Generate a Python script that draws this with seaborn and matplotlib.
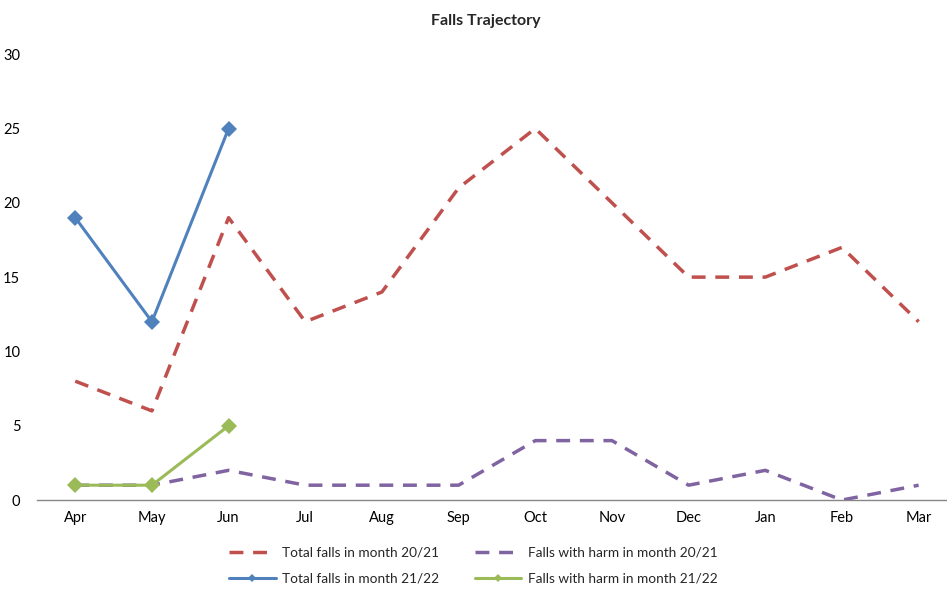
import seaborn as sns
import matplotlib.pyplot as plt
import pandas as pd

months = ['Apr', 'May', 'Jun', 'Jul', 'Aug', 'Sep', 'Oct', 'Nov', 'Dec', 'Jan', 'Feb', 'Mar']
total_2021 = [8, 6, 19, 12, 14, 21, 25, 20, 15, 15, 17, 12]
harm_2021 = [1, 1, 2, 1, 1, 1, 4, 4, 1, 2, 0, 1]
total_2122 = [19, 12, 25]
harm_2122 = [1, 1, 5]

sns.set_theme(style="white")
plt.rcParams['font.family'] = ['Lato', 'DejaVu Sans']

fig = plt.figure(figsize=(9.47, 5.89), dpi=100)
ax = fig.add_axes([0.039, 0.151, 0.961, 0.757])

pos = list(range(len(months)))
df1 = pd.DataFrame({'x': pos, 'total': total_2021, 'harm': harm_2021})
df2 = pd.DataFrame({'x': pos[:len(total_2122)], 'total': total_2122, 'harm': harm_2122})

sns.lineplot(data=df1, x='x', y='total', ax=ax, color='#C0504D', linewidth=2.5,
             label='Total falls in month 20/21')
sns.lineplot(data=df1, x='x', y='harm', ax=ax, color='#8064A2', linewidth=2.5,
             label='Falls with harm in month 20/21')
sns.lineplot(data=df2, x='x', y='total', ax=ax, color='#4F81BD', linewidth=2.2,
             marker='D', markersize=8, markeredgewidth=0, label='Total falls in month 21/22')
sns.lineplot(data=df2, x='x', y='harm', ax=ax, color='#9BBB59', linewidth=2.2,
             marker='D', markersize=8, markeredgewidth=0, label='Falls with harm in month 21/22')

for ln in ax.lines[:2]:
    ln.set_dashes((4, 2.8))

ax.set_xlim(-0.5, 11.37)
ax.set_ylim(0, 30)
ax.set_yticks(range(0, 31, 5))
ax.set_xticks(pos)
ax.set_xticklabels(months)
ax.set_xlabel('')
ax.set_ylabel('')
ax.tick_params(axis='both', labelsize=10.5, colors='#000000', length=0, pad=8)
ax.tick_params(axis='y', pad=12)
for s in ['top', 'right', 'left']:
    ax.spines[s].set_visible(False)
ax.spines['bottom'].set_color('#868686')
ax.spines['bottom'].set_linewidth(1)

fig.text(0.513, 0.965, 'Falls Trajectory', ha='center', va='center', fontsize=11.5, fontweight='bold')

handles, labels = ax.get_legend_handles_labels()
order = [0, 2, 1, 3]
leg = ax.legend([handles[i] for i in order], [labels[i] for i in order], ncol=2, frameon=False,
                loc='center', bbox_to_anchor=(0.5, 0.04), bbox_transform=fig.transFigure,
                fontsize=9.8, handlelength=3.4, handletextpad=0.5, columnspacing=2.6,
                labelspacing=1.05, markerscale=0.45)

fig.savefig('out.png', dpi=100)
